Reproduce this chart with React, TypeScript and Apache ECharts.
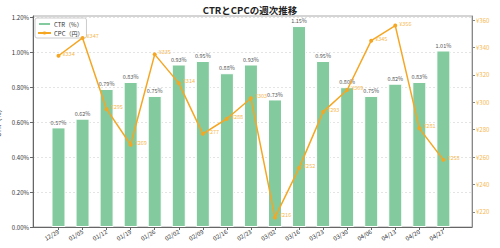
import React, { useEffect, useRef } from "react";
import * as echarts from "echarts";

const weeks = [
  "12/29", "01/05", "01/12", "01/19", "01/26", "02/02", "02/09", "02/16", "02/23",
  "03/02", "03/16", "03/23", "03/30", "04/06", "04/13", "04/20", "04/27",
];
const ctr = [0.57, 0.62, 0.79, 0.83, 0.75, 0.93, 0.95, 0.88, 0.93, 0.73, 1.15, 0.95, 0.8, 0.75, 0.82, 0.83, 1.01];
const cpc = [334, 347, 295, 269, 335, 314, 277, 288, 303, 216, 252, 293, 309, 345, 356, 281, 258];
const ctrTicks = [0, 0.2, 0.4, 0.6, 0.8, 1.0, 1.2];
const cpcTicks = [220, 240, 260, 280, 300, 320, 340, 360];

const FONT = "'Noto Sans CJK JP', 'Noto Sans', sans-serif";
const GREEN = "#84CA9F";
const ORANGE = "#F5A623";
const ORANGE_TEXT = "#F7B84E";

export default function App() {
  const ref = useRef<HTMLDivElement>(null);

  useEffect(() => {
    if (!ref.current) return;
    const chart = echarts.init(ref.current, null, { renderer: "svg" });
    const idx = weeks.map((_, i) => i);

    chart.setOption({
      animation: false,
      textStyle: { fontFamily: FONT },
      title: {
        text: "CTRとCPCの週次推移",
        left: "center",
        top: 0,
        textStyle: { fontSize: 9.5, fontWeight: "bold", color: "#222", fontFamily: FONT },
      },
      legend: {
        left: 35,
        top: 18,
        orient: "vertical",
        itemWidth: 13,
        itemHeight: 4,
        itemGap: 3,
        padding: [3, 3, 2, 2],
        borderColor: "#ccc",
        borderWidth: 1,
        borderRadius: 2,
        backgroundColor: "rgba(255,255,255,0.8)",
        textStyle: { fontSize: 6, color: "#333", fontFamily: FONT, padding: [0, 0, 0, -2] },
        data: [
          { name: "CTR（%）", icon: "rect" },
          { name: "CPC（円）" },
        ],
      },
      grid: {
        left: 33,
        right: 28,
        top: 16,
        bottom: 21,
        show: true,
        borderColor: "#aaa",
        borderWidth: 1,
        containLabel: false,
        outerBoundsMode: "none",
      },
      xAxis: {
        type: "value",
        min: -1.06,
        max: 17.19,
        splitLine: { show: false },
        axisLine: { onZero: false, lineStyle: { color: "#666" } },
        axisTick: { customValues: idx, length: 3, lineStyle: { color: "#666" } },
        axisLabel: {
          customValues: idx,
          rotate: 30,
          fontSize: 6,
          color: "#333",
          margin: 4,
          formatter: (v: number) => weeks[Math.round(v)] ?? "",
        },
      },
      yAxis: [
        {
          type: "value",
          min: 0,
          max: 1.2075,
          interval: 0.2,
          name: "CTR（%）",
          nameLocation: "middle",
          nameGap: 21,
          nameTextStyle: { fontSize: 6.5, color: "#333", fontFamily: FONT },
          axisLine: { show: true, onZero: false, lineStyle: { color: "#666" } },
          axisTick: { show: true, customValues: ctrTicks, length: 3, lineStyle: { color: "#666" } },
          axisLabel: {
            customValues: ctrTicks,
            fontSize: 6,
            color: "#333",
            margin: 4,
            formatter: (v: number) => v.toFixed(2) + "%",
          },
          splitLine: { show: true, lineStyle: { color: "#ddd", type: [2, 2], width: 0.8 } },
        },
        {
          type: "value",
          min: 209,
          max: 363,
          position: "right",
          name: "CPC（円）",
          nameLocation: "middle",
          nameGap: 14,
          nameRotate: 90,
          nameTextStyle: { fontSize: 6.5, color: ORANGE_TEXT, fontFamily: FONT },
          axisLine: { show: true, onZero: false, lineStyle: { color: "#888" } },
          axisTick: { show: true, customValues: cpcTicks, length: 3, lineStyle: { color: "#888" } },
          axisLabel: {
            customValues: cpcTicks,
            fontSize: 6,
            color: ORANGE_TEXT,
            margin: 4,
            formatter: (v: number) => "¥" + v,
          },
          splitLine: { show: false },
        },
      ],
      series: [
        {
          name: "CTR（%）",
          type: "bar",
          yAxisIndex: 0,
          barWidth: 14,
          data: ctr.map((v, i) => [i, v]),
          itemStyle: { color: GREEN, borderColor: "#fff", borderWidth: 1 },
          label: {
            show: true,
            position: "top",
            distance: 2,
            fontSize: 5.5,
            color: "#555",
            formatter: (p: any) => p.value[1].toFixed(2) + "%",
          },
        },
        {
          name: "CPC（円）",
          type: "line",
          yAxisIndex: 1,
          data: cpc.map((v, i) => [i, v]),
          symbol: "circle",
          symbolSize: 4,
          lineStyle: { color: ORANGE, width: 1.5 },
          itemStyle: { color: ORANGE },
          label: {
            show: true,
            position: "right",
            distance: 2,
            offset: [0, -2],
            fontSize: 5.5,
            color: ORANGE_TEXT,
            formatter: (p: any) => "¥" + p.value[1],
          },
          z: 5,
        },
      ],
    });

    return () => chart.dispose();
  }, []);

  return <div ref={ref} style={{ width: 500, height: 248, position: "absolute", left: 0, top: 0 }} />;
}
